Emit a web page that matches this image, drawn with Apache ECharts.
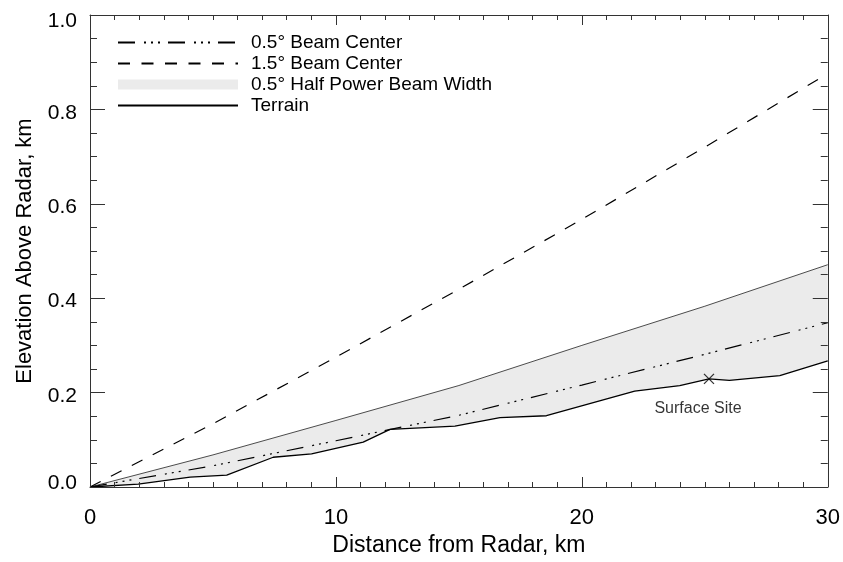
<!DOCTYPE html>
<html><head><meta charset="utf-8">
<script src="https://cdn.jsdelivr.net/npm/echarts@6/dist/echarts.min.js"></script>
<style>html,body{margin:0;padding:0;background:#fff}#c{width:843px;height:562px}</style>
</head><body><div id="c"></div>
<script>
// ---- data ----
const beamDist      = [0, 5, 10, 15, 20, 25, 30];
const beam05Center  = [0, 0.045, 0.098, 0.152, 0.216, 0.281, 0.348];
const beam15Center  = [0, 0.134, 0.275, 0.419, 0.567, 0.720, 0.876];
const beam05Top     = [0, 0.068, 0.141, 0.215, 0.300, 0.383, 0.471];
const terrainDist   = [0, 1.96, 4.07, 5.56, 7.45, 9.01, 11.11, 12.2, 14.84, 16.67, 18.56, 22.15, 23.98, 25.17, 26.0, 28.05, 30];
const terrainElev   = [0, 0.006, 0.021, 0.025, 0.063, 0.070, 0.095, 0.122, 0.129, 0.147, 0.151, 0.203, 0.215, 0.229, 0.226, 0.236, 0.267];
const surfaceSite   = [25.17, 0.229];
const xTickLabels   = ['0', '10', '20', '30'];
const yTickLabels   = ['0.0', '0.2', '0.4', '0.6', '0.8', '1.0'];
const seriesNames   = ['0.5° Beam Center', '1.5° Beam Center', '0.5° Half Power Beam Width', 'Terrain'];

const FONT = "'Liberation Sans', Arial, Helvetica, sans-serif";
const pair = (xs, ys) => xs.map((x, i) => [x, ys[i]]);
const AX = '#333';

const chart = echarts.init(document.getElementById('c'), null, {renderer: 'canvas'});

function xAx(pos, labels) {
  return {
    type: 'value', position: pos, min: 0, max: 30, interval: 10, z: 10,
    name: labels ? 'Distance from Radar, km' : '', nameLocation: 'middle', nameGap: 47,
    nameTextStyle: {fontFamily: FONT, fontSize: 23, color: '#000'},
    axisLine: {show: true, onZero: false, lineStyle: {color: AX, width: 1}},
    axisTick: {show: true, inside: true, length: 10, lineStyle: {color: AX}},
    minorTick: {show: true, splitNumber: 10, length: 5, lineStyle: {color: AX}},
    axisLabel: {show: labels, margin: 20, fontFamily: FONT, fontSize: 22, color: '#000',
      formatter: v => xTickLabels[Math.round(v / 10)]},
    splitLine: {show: false}
  };
}
function yAx(pos, labels) {
  const ts = {fontFamily: FONT, fontSize: 21, color: '#000'};
  return {
    type: 'value', position: pos, min: 0, max: 1, interval: 0.2, z: 10,
    name: labels ? 'Elevation Above Radar, km' : '', nameLocation: 'middle', nameGap: 54, nameRotate: 90,
    nameTextStyle: {fontFamily: FONT, fontSize: 22, color: '#000'},
    axisLine: {show: true, onZero: false, lineStyle: {color: AX, width: 1}},
    axisTick: {show: true, inside: true, length: 15, lineStyle: {color: AX}},
    minorTick: {show: true, splitNumber: 4, length: 7, lineStyle: {color: AX}},
    axisLabel: {show: labels, margin: 13, fontFamily: FONT, fontSize: 21, color: '#000',
      formatter: v => {
        const i = Math.round(v / 0.2);
        if (i === 0) return '{lo|' + yTickLabels[i] + '}';
        if (i === yTickLabels.length - 1) return '{hi|' + yTickLabels[i] + '}';
        return '{md|' + yTickLabels[i] + '}';
      },
      rich: {
        lo: Object.assign({padding: [0, 0, 8, 0]}, ts),
        hi: Object.assign({padding: [12, 0, 0, 0]}, ts),
        md: Object.assign({padding: [7, 0, 0, 0]}, ts)
      }},
    splitLine: {show: false}
  };
}

const lineLegendStyle = {opacity: 0};

const option = {
  animation: false,
  backgroundColor: '#fff',
  grid: {left: 90, right: 15, top: 15, bottom: 65, containLabel: false},
  xAxis: [xAx('bottom', true), xAx('top', false)],
  yAxis: [yAx('left', true), yAx('right', false)],
  legend: {
    orient: 'vertical', left: 117, top: 33, padding: 0, itemGap: 2,
    itemWidth: 120, itemHeight: 10, selectedMode: false,
    textStyle: {fontFamily: FONT, fontSize: 19, color: '#000', padding: [0, 0, 0, 8]},
    data: [
      {name: seriesNames[0], itemStyle: lineLegendStyle},
      {name: seriesNames[1], itemStyle: lineLegendStyle},
      {name: seriesNames[2], icon: 'rect', itemStyle: {color: '#ebebeb', borderWidth: 0, opacity: 1}},
      {name: seriesNames[3], itemStyle: lineLegendStyle}
    ]
  },
  series: [
    {
      name: seriesNames[2], type: 'line', z: 1, symbol: 'none', silent: true,
      data: pair(beamDist, beam05Top),
      lineStyle: {color: '#000', width: 0.7},
      itemStyle: {color: '#ebebeb'},
      areaStyle: {color: '#ebebeb', opacity: 1, origin: 'start'}
    },
    {
      name: seriesNames[3], type: 'line', z: 2, symbol: 'none', silent: true,
      data: pair(terrainDist, terrainElev),
      lineStyle: {color: '#000', width: 1.3},
      itemStyle: {color: '#000'},
      areaStyle: {color: '#fff', opacity: 1, origin: 'start'}
    },
    {
      name: seriesNames[0], type: 'line', z: 3, symbol: 'none', silent: true,
      data: pair(beamDist, beam05Center),
      lineStyle: {color: '#000', width: 1.2, type: [17, 9, 2, 5, 2, 5, 2, 8]},
      itemStyle: {color: '#000'}
    },
    {
      name: seriesNames[1], type: 'line', z: 3, symbol: 'none', silent: true,
      data: pair(beamDist, beam15Center),
      lineStyle: {color: '#000', width: 1.2, type: [12, 11.5]},
      itemStyle: {color: '#000'}
    },
    {
      name: 'Surface Site', type: 'scatter', z: 4, silent: true,
      data: [surfaceSite],
      symbol: 'path://M0,0L10,10M10,0L0,10', symbolSize: 10,
      itemStyle: {color: 'none', borderColor: '#000', borderWidth: 1.3},
      label: {show: true, position: 'bottom', distance: 14, offset: [-11, 0], formatter: 'Surface Site',
        fontFamily: FONT, fontSize: 16, color: '#000'}
    }
  ]
};
chart.setOption(option);
</script>
</body></html>
